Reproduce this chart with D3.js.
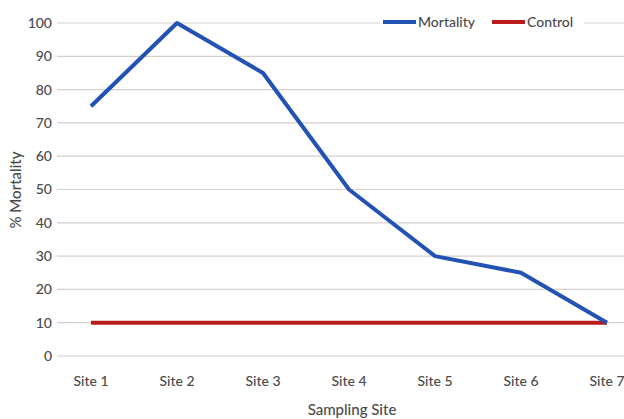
<!DOCTYPE html>
<html><head><meta charset="utf-8">
<script src="https://cdn.jsdelivr.net/npm/d3@7"></script>
<style>body{margin:0;background:#fff}text{font-family:Lato,"Open Sans",sans-serif}</style>
</head><body><svg id="c" width="624" height="419"></svg>
<script>
const sites = ["Site 1","Site 2","Site 3","Site 4","Site 5","Site 6","Site 7"];
const mortality = [75,100,85,50,30,25,10];
const control = [10,10,10,10,10,10,10];
const yTicks = [0,10,20,30,40,50,60,70,80,90,100];

const svg = d3.select("#c");
const x = d3.scalePoint().domain(sites).range([91,607]);
const y = d3.scaleLinear().domain([0,100]).range([356,23]);

svg.append("g").selectAll("line").data(yTicks).join("line")
  .attr("x1",57).attr("x2",624).attr("y1",d=>y(d)).attr("y2",d=>y(d))
  .attr("stroke","#d8cfc9").attr("stroke-width",1.2);

svg.append("g").selectAll("text").data(yTicks).join("text")
  .attr("x",52).attr("y",d=>y(d)).attr("dy","0.35em").attr("text-anchor","end")
  .attr("font-size",14).attr("font-weight",500).attr("fill","#4a4a4a").text(d=>d);

svg.append("g").selectAll("text").data(sites).join("text")
  .attr("x",d=>x(d)).attr("y",386).attr("text-anchor","middle")
  .attr("font-size",14).attr("font-weight",500).attr("fill","#4a4a4a").text(d=>d);

svg.append("text").attr("x",352).attr("y",415).attr("text-anchor","middle")
  .attr("font-size",15).attr("font-weight",500).attr("fill","#4a4a4a").text("Sampling Site");
svg.append("text").attr("transform","translate(21,190) rotate(-90)").attr("text-anchor","middle")
  .attr("font-size",15).attr("font-weight",500).attr("fill","#4a4a4a").text("% Mortality");

const line = d3.line().x((d,i)=>x(sites[i])).y(d=>y(d));
svg.append("path").datum(control).attr("d",line).attr("fill","none")
  .attr("stroke","#b91c1c").attr("stroke-width",4);
svg.append("path").datum(mortality).attr("d",line).attr("fill","none")
  .attr("stroke","#2352b5").attr("stroke-width",4).attr("stroke-linejoin","round");

const lg = svg.append("g");
lg.append("rect").attr("x",380).attr("y",12).attr("width",204).attr("height",22).attr("fill","#fff");
const items = [{n:"Mortality",c:"#2352b5",x:383},{n:"Control",c:"#b91c1c",x:492}];
items.forEach(it=>{
  lg.append("line").attr("x1",it.x).attr("x2",it.x+33).attr("y1",22).attr("y2",22)
    .attr("stroke",it.c).attr("stroke-width",4);
  lg.append("text").attr("x",it.x+35).attr("y",22).attr("dy","0.35em")
    .attr("font-size",14).attr("font-weight",500).attr("fill","#4a4a4a").text(it.n);
});
</script></body></html>
